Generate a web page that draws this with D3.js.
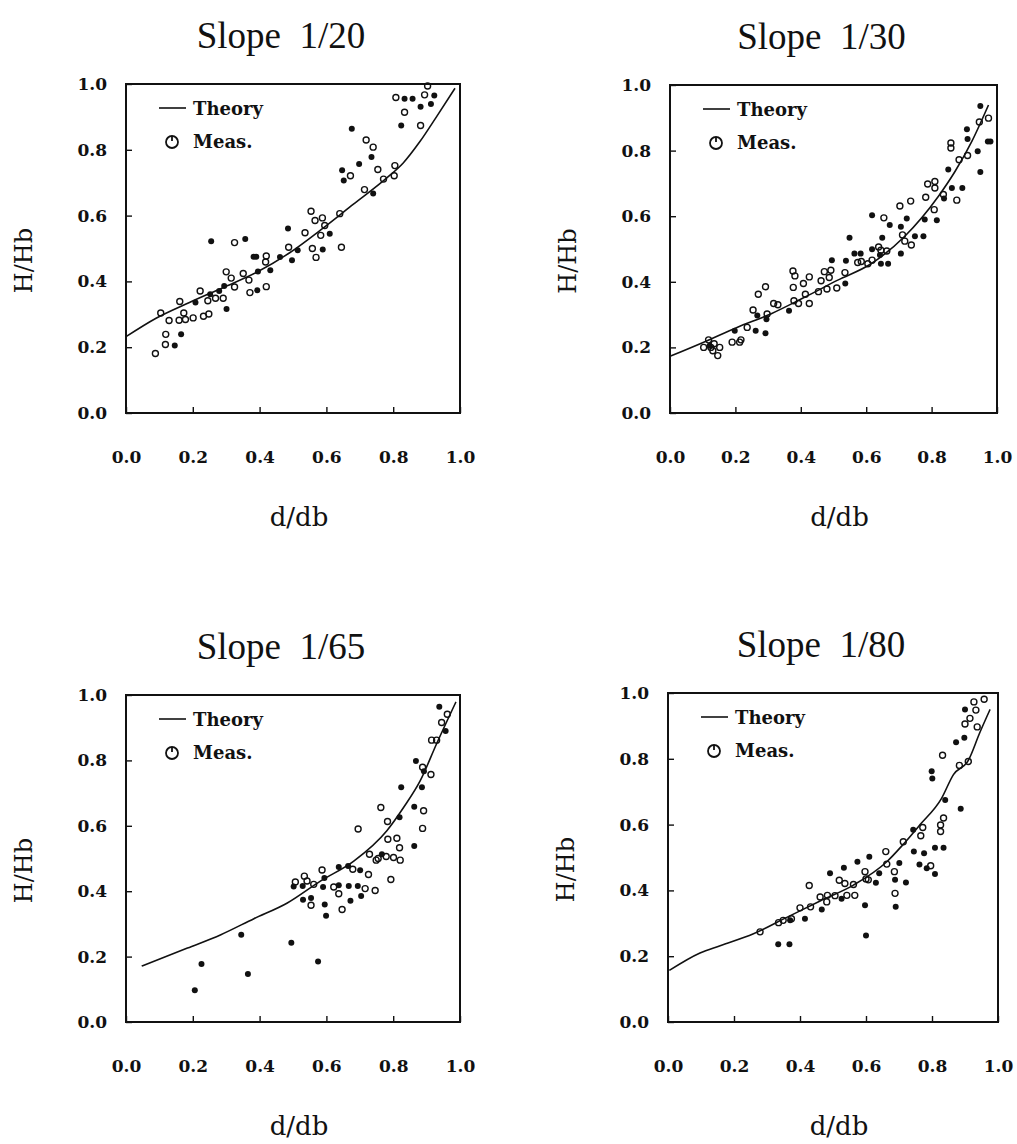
<!DOCTYPE html>
<html>
<head>
<meta charset="utf-8">
<script src="https://cdn.jsdelivr.net/npm/d3@7"></script>
<style>
  html, body { margin: 0; padding: 0; background: #fff; }
</style>
</head>
<body>
<script>
// ---------------- DATA ----------------
const panelTitles = ["Slope  1/20", "Slope  1/30", "Slope  1/65", "Slope  1/80"];
const xTickValues = [0.0, 0.2, 0.4, 0.6, 0.8, 1.0];
const yTickValues = [0.0, 0.2, 0.4, 0.6, 0.8, 1.0];
const xLabel = "d/db";
const yLabel = "H/Hb";
const legendLabels = ["Theory", "Meas."];

// Theory curves [d/db, H/Hb]
const theory20 = [[0.0,0.232],[0.09,0.288],[0.19,0.336],[0.29,0.381],[0.39,0.427],[0.49,0.487],[0.585,0.558],[0.68,0.634],[0.78,0.714],[0.83,0.760],[0.88,0.825],[0.93,0.901],[0.985,0.987]];
const theory30 = [[0.0,0.173],[0.103,0.216],[0.205,0.261],[0.308,0.302],[0.41,0.352],[0.513,0.405],[0.615,0.455],[0.718,0.539],[0.821,0.661],[0.872,0.737],[0.923,0.828],[0.974,0.939]];
const theory65 = [[0.047,0.171],[0.184,0.226],[0.284,0.267],[0.383,0.316],[0.483,0.364],[0.582,0.431],[0.682,0.492],[0.781,0.585],[0.831,0.656],[0.881,0.738],[0.930,0.851],[0.988,0.979]];
const theory80 = [[0.004,0.157],[0.097,0.210],[0.158,0.232],[0.259,0.268],[0.36,0.318],[0.461,0.368],[0.562,0.416],[0.663,0.487],[0.713,0.540],[0.764,0.600],[0.829,0.680],[0.865,0.752],[0.910,0.795],[0.945,0.880],[0.976,0.950]];

// Measurements: open symbols
const open20 = [[0.903,0.994],[0.808,0.959],[0.894,0.967],[0.834,0.914],[0.882,0.874],[0.719,0.830],[0.740,0.808],[0.754,0.740],[0.672,0.721],[0.805,0.752],[0.803,0.721],[0.771,0.711],[0.714,0.679],[0.554,0.613],[0.640,0.606],[0.566,0.585],[0.588,0.593],[0.595,0.570],[0.583,0.540],[0.536,0.548],[0.558,0.500],[0.569,0.473],[0.645,0.504],[0.487,0.504],[0.420,0.477],[0.418,0.459],[0.325,0.518],[0.300,0.429],[0.315,0.410],[0.351,0.424],[0.368,0.404],[0.325,0.383],[0.420,0.384],[0.371,0.366],[0.222,0.371],[0.268,0.349],[0.291,0.349],[0.245,0.341],[0.161,0.339],[0.104,0.304],[0.173,0.304],[0.129,0.281],[0.159,0.282],[0.178,0.284],[0.201,0.289],[0.232,0.294],[0.248,0.301],[0.119,0.239],[0.118,0.208],[0.088,0.181]];
const open30 = [[0.974,0.899],[0.946,0.887],[0.910,0.785],[0.884,0.772],[0.859,0.823],[0.859,0.808],[0.877,0.649],[0.788,0.698],[0.810,0.706],[0.810,0.686],[0.836,0.666],[0.782,0.658],[0.808,0.620],[0.703,0.631],[0.736,0.646],[0.711,0.543],[0.718,0.524],[0.738,0.512],[0.654,0.595],[0.638,0.506],[0.645,0.496],[0.663,0.494],[0.618,0.466],[0.605,0.455],[0.585,0.462],[0.574,0.459],[0.472,0.431],[0.492,0.435],[0.487,0.413],[0.462,0.403],[0.454,0.370],[0.480,0.378],[0.510,0.381],[0.535,0.428],[0.376,0.433],[0.382,0.418],[0.426,0.415],[0.408,0.395],[0.377,0.383],[0.414,0.362],[0.426,0.334],[0.393,0.334],[0.379,0.342],[0.330,0.330],[0.317,0.334],[0.297,0.302],[0.292,0.385],[0.270,0.362],[0.254,0.314],[0.236,0.261],[0.217,0.223],[0.213,0.216],[0.190,0.216],[0.118,0.223],[0.103,0.200],[0.125,0.200],[0.135,0.211],[0.152,0.200],[0.146,0.175],[0.131,0.190]];
const open65 = [[0.962,0.941],[0.945,0.916],[0.915,0.862],[0.930,0.862],[0.888,0.779],[0.913,0.757],[0.763,0.656],[0.891,0.646],[0.783,0.613],[0.888,0.592],[0.695,0.590],[0.784,0.559],[0.811,0.562],[0.819,0.533],[0.729,0.513],[0.749,0.495],[0.779,0.506],[0.801,0.503],[0.821,0.495],[0.755,0.500],[0.679,0.467],[0.726,0.451],[0.587,0.465],[0.534,0.446],[0.507,0.428],[0.542,0.431],[0.562,0.421],[0.622,0.413],[0.716,0.408],[0.746,0.402],[0.793,0.436],[0.637,0.392],[0.554,0.357],[0.647,0.344]];
const open80 = [[0.958,0.981],[0.927,0.973],[0.933,0.948],[0.915,0.923],[0.900,0.906],[0.937,0.897],[0.832,0.811],[0.910,0.792],[0.883,0.780],[0.835,0.620],[0.826,0.599],[0.826,0.579],[0.772,0.591],[0.766,0.566],[0.796,0.475],[0.713,0.548],[0.660,0.518],[0.686,0.457],[0.688,0.391],[0.663,0.480],[0.597,0.457],[0.607,0.432],[0.600,0.435],[0.519,0.431],[0.536,0.421],[0.562,0.418],[0.506,0.384],[0.542,0.385],[0.566,0.385],[0.483,0.385],[0.481,0.365],[0.461,0.380],[0.428,0.415],[0.400,0.347],[0.432,0.350],[0.349,0.309],[0.335,0.302],[0.374,0.314],[0.279,0.274]];

// Measurements: filled symbols
const filled20 = [[0.834,0.955],[0.858,0.955],[0.923,0.965],[0.882,0.931],[0.913,0.939],[0.824,0.874],[0.676,0.864],[0.735,0.778],[0.698,0.757],[0.647,0.738],[0.652,0.707],[0.740,0.667],[0.610,0.545],[0.485,0.561],[0.589,0.497],[0.514,0.495],[0.497,0.464],[0.461,0.474],[0.382,0.475],[0.390,0.475],[0.432,0.434],[0.395,0.430],[0.357,0.529],[0.255,0.522],[0.294,0.386],[0.279,0.371],[0.393,0.373],[0.252,0.361],[0.208,0.336],[0.301,0.316],[0.165,0.239],[0.146,0.205]];
const filled30 = [[0.949,0.936],[0.972,0.828],[0.980,0.828],[0.908,0.865],[0.910,0.835],[0.941,0.798],[0.949,0.735],[0.851,0.742],[0.862,0.686],[0.894,0.686],[0.838,0.654],[0.779,0.590],[0.816,0.588],[0.749,0.539],[0.775,0.539],[0.724,0.593],[0.706,0.568],[0.706,0.486],[0.618,0.603],[0.672,0.573],[0.649,0.534],[0.618,0.499],[0.642,0.482],[0.645,0.455],[0.667,0.455],[0.549,0.534],[0.564,0.486],[0.583,0.486],[0.538,0.464],[0.495,0.466],[0.536,0.395],[0.364,0.312],[0.267,0.297],[0.295,0.286],[0.262,0.251],[0.292,0.243],[0.198,0.251],[0.121,0.205]];
const filled65 = [[0.938,0.964],[0.957,0.890],[0.868,0.798],[0.892,0.767],[0.824,0.718],[0.886,0.718],[0.863,0.658],[0.819,0.626],[0.863,0.538],[0.766,0.513],[0.637,0.474],[0.665,0.477],[0.701,0.464],[0.594,0.440],[0.502,0.414],[0.529,0.416],[0.590,0.413],[0.637,0.418],[0.667,0.416],[0.694,0.416],[0.704,0.385],[0.672,0.371],[0.530,0.374],[0.554,0.379],[0.595,0.359],[0.599,0.325],[0.345,0.267],[0.495,0.242],[0.575,0.185],[0.226,0.177],[0.365,0.147],[0.206,0.097]];
const filled80 = [[0.900,0.950],[0.898,0.864],[0.873,0.850],[0.799,0.762],[0.801,0.740],[0.887,0.648],[0.840,0.675],[0.809,0.530],[0.835,0.530],[0.743,0.584],[0.745,0.518],[0.776,0.513],[0.762,0.479],[0.784,0.467],[0.809,0.450],[0.701,0.483],[0.688,0.432],[0.721,0.424],[0.690,0.350],[0.640,0.452],[0.610,0.502],[0.630,0.423],[0.574,0.487],[0.597,0.355],[0.600,0.263],[0.533,0.469],[0.491,0.452],[0.526,0.375],[0.466,0.342],[0.415,0.314],[0.370,0.309],[0.334,0.236],[0.368,0.236]];

// ---------------- LAYOUT ----------------
const W = 1017, H = 1144;
const frames = [
  {left:126, right:460, top:84,  bottom:413},
  {left:670, right:997, top:85,  bottom:413},
  {left:126, right:460, top:695, bottom:1022},
  {left:668, right:998, top:693, bottom:1022}
];
const theories = [theory20, theory30, theory65, theory80];
const opens = [open20, open30, open65, open80];
const filleds = [filled20, filled30, filled65, filled80];

const svg = d3.select("body").append("svg")
  .attr("width", W).attr("height", H)
  .style("background", "#fff");

const serif = "'DejaVu Serif', 'Liberation Serif', serif";
const titleFont = "'Liberation Serif', 'DejaVu Serif', serif";

frames.forEach((f, i) => {
  const x = d3.scaleLinear().domain([0, 1]).range([f.left, f.right]);
  const y = d3.scaleLinear().domain([0, 1]).range([f.bottom, f.top]);
  const g = svg.append("g");

  // Title
  g.append("text")
    .attr("x", (f.left + f.right) / 2 - 12)
    .attr("y", f.top - 36)
    .attr("text-anchor", "middle")
    .style("font-family", titleFont)
    .style("font-size", "37px")
    .style("white-space", "pre")
    .attr("fill", "#111")
    .text(panelTitles[i]);

  // Axes
  const xa = g.append("g").attr("transform", `translate(0,${f.bottom})`)
    .call(d3.axisBottom(x).tickValues(xTickValues).tickSizeInner(-6).tickSizeOuter(0)
      .tickPadding(38).tickFormat(d3.format(".1f")));
  const ya = g.append("g").attr("transform", `translate(${f.left},0)`)
    .call(d3.axisLeft(y).tickValues(yTickValues).tickSizeInner(-6).tickSizeOuter(0)
      .tickPadding(19).tickFormat(d3.format(".1f")));
  [xa, ya].forEach(a => {
    a.select(".domain").remove();
    a.selectAll("line").attr("stroke", "#111").attr("stroke-width", 1.4);
    a.selectAll("text")
      .style("font-family", serif).style("font-size", "17px").style("font-weight", "bold")
      .attr("fill", "#111");
  });

  // Frame
  g.append("rect")
    .attr("x", x(0)).attr("y", y(1))
    .attr("width", x(1) - x(0)).attr("height", y(0) - y(1))
    .attr("fill", "none").attr("stroke", "#111").attr("stroke-width", 2);

  // Axis titles
  g.append("text")
    .attr("x", (f.left + f.right) / 2 + 6)
    .attr("y", f.bottom + 113)
    .attr("text-anchor", "middle")
    .style("font-family", serif).style("font-size", "26px")
    .attr("fill", "#111")
    .text(xLabel);
  const ycx = f.left - 102, ycy = (f.top + f.bottom) / 2 + 12;
  g.append("text")
    .attr("transform", `translate(${ycx},${ycy}) rotate(-90)`)
    .attr("text-anchor", "middle")
    .attr("dy", "0.35em")
    .style("font-family", serif).style("font-size", "24px")
    .attr("fill", "#111")
    .text(yLabel);

  // Theory curve
  const line = d3.line().x(d => x(d[0])).y(d => y(d[1])).curve(d3.curveMonotoneX);
  g.append("path").datum(theories[i])
    .attr("d", line).attr("fill", "none")
    .attr("stroke", "#111").attr("stroke-width", 1.6);

  // Measurements
  g.selectAll(".op").data(opens[i]).enter().append("circle")
    .attr("cx", d => x(d[0])).attr("cy", d => y(d[1])).attr("r", 3)
    .attr("fill", "none").attr("stroke", "#111").attr("stroke-width", 1.4);
  g.selectAll(".fp").data(filleds[i]).enter().append("circle")
    .attr("cx", d => x(d[0])).attr("cy", d => y(d[1])).attr("r", 3)
    .attr("fill", "#111");

  // Legend
  const lx = x(0), ly = y(1);
  g.append("line")
    .attr("x1", lx + 33).attr("x2", lx + 60)
    .attr("y1", ly + 24).attr("y2", ly + 24)
    .attr("stroke", "#111").attr("stroke-width", 1.6);
  g.append("text")
    .attr("x", lx + 67).attr("y", ly + 31)
    .style("font-family", serif).style("font-size", "18px").style("font-weight", "bold")
    .attr("fill", "#111").text(legendLabels[0]);
  g.append("circle")
    .attr("cx", lx + 46).attr("cy", ly + 58).attr("r", 6)
    .attr("fill", "none").attr("stroke", "#111").attr("stroke-width", 1.8);
  g.append("line")
    .attr("x1", lx + 46).attr("x2", lx + 46)
    .attr("y1", ly + 52).attr("y2", ly + 57)
    .attr("stroke", "#111").attr("stroke-width", 1.8);
  g.append("text")
    .attr("x", lx + 67).attr("y", ly + 64)
    .style("font-family", serif).style("font-size", "18px").style("font-weight", "bold")
    .attr("fill", "#111").text(legendLabels[1]);
});
</script>
</body>
</html>
